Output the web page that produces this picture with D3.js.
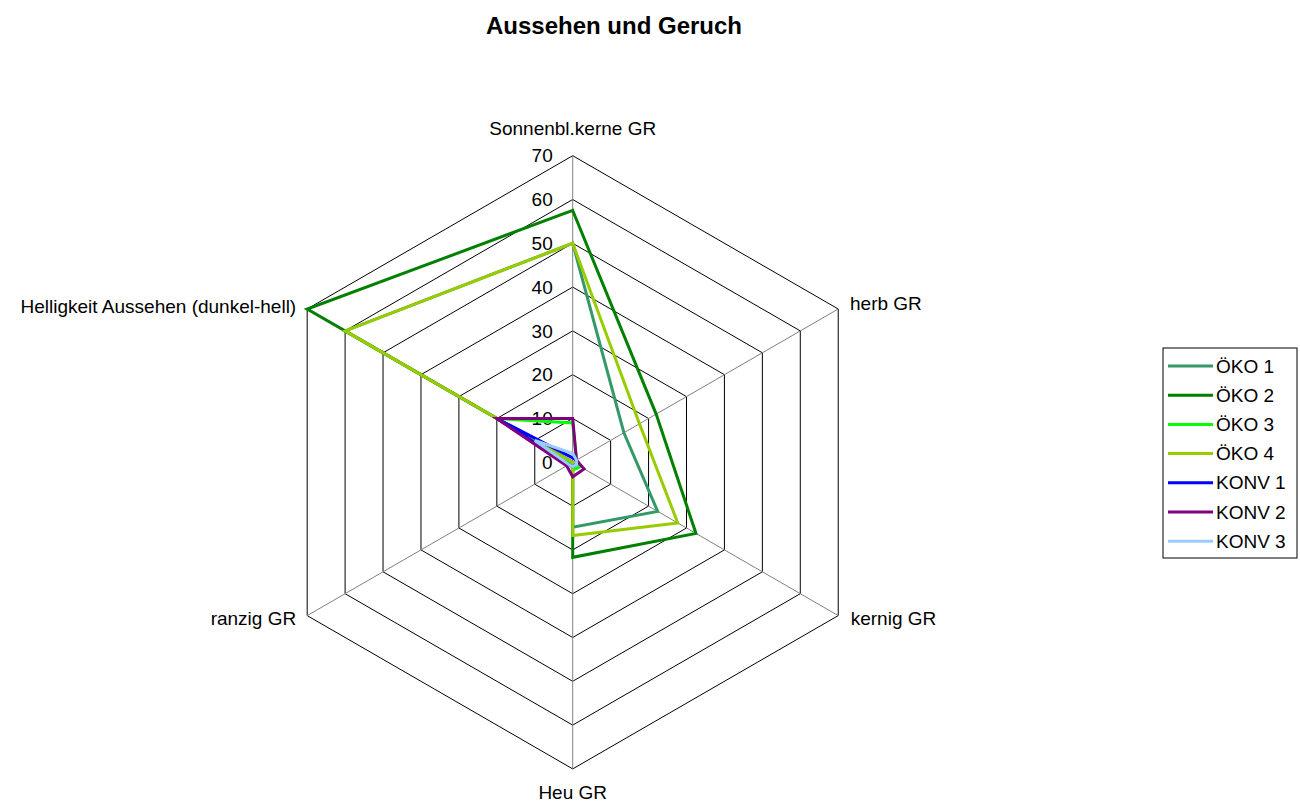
<!DOCTYPE html>
<html>
<head>
<meta charset="utf-8">
<script src="https://cdn.jsdelivr.net/npm/d3@7"></script>
<style>
  body { margin: 0; background: #fff; }
  svg text { font-family: "Liberation Sans", Arial, sans-serif; fill: #000; }
</style>
</head>
<body>
<div id="chart"></div>
<script>
// axes, clockwise from the top
var axes = ['Sonnenbl.kerne GR', 'herb GR', 'kernig GR', 'Heu GR', 'ranzig GR', 'Helligkeit Aussehen (dunkel-hell)'];
var ticks = [0, 10, 20, 30, 40, 50, 60, 70];

var seriesNames = ['ÖKO 1', 'ÖKO 2', 'ÖKO 3', 'ÖKO 4', 'KONV 1', 'KONV 2', 'KONV 3'];
var seriesColors = ['#339966', '#008000', '#00ff00', '#99cc00', '#0000ff', '#800080', '#99ccff'];

var oeko1 = [50, 13.5, 22.4, 14.8, 0, 60];
var oeko2 = [57.5, 22, 32.5, 21.7, 0, 70];
var oeko3 = [9, 1, 2, 1.8, 0.5, 20];
var oeko4 = [50, 17.6, 27.7, 16.7, 0, 60];
var konv1 = [1, 1, 1, 1, 1, 20];
var konv2 = [10, 1, 3, 3.3, 1.6, 20];
var konv3 = [2, 1, 1, 1, 1, 10];
var seriesValues = [oeko1, oeko2, oeko3, oeko4, konv1, konv2, konv3];

var width = 1300, height = 804;
var cx = 572.7, cy = 462.3;

var svg = d3.select('#chart').append('svg')
  .attr('width', width)
  .attr('height', height);

svg.append('text')
  .attr('x', 614).attr('y', 34)
  .attr('text-anchor', 'middle')
  .style('font-size', '24px')
  .style('font-weight', 'bold')
  .text('Aussehen und Geruch');

var r = d3.scaleLinear().domain([0, 70]).range([0, 306.6]);
var angle = d3.scaleLinear().domain([0, axes.length]).range([0, 2 * Math.PI]);

var g = svg.append('g').attr('transform', 'translate(' + cx + ',' + cy + ')');

function pt(i, v) {
  var a = angle(i);
  return [r(v) * Math.sin(a), -r(v) * Math.cos(a)];
}

//grid rings
var ring = d3.lineRadial()
  .angle(function(d, i) { return angle(i); })
  .radius(function(d) { return r(d); })
  .curve(d3.curveLinearClosed);

g.selectAll('.ring')
  .data(ticks.slice(1))
  .enter().append('path')
    .attr('class', 'ring')
    .attr('d', function(t) { return ring(axes.map(function() { return t; })); })
    .attr('fill', 'none')
    .attr('stroke', '#000')
    .attr('stroke-width', 1);

//spokes
g.selectAll('.spoke')
  .data(axes)
  .enter().append('line')
    .attr('class', 'spoke')
    .attr('x1', 0).attr('y1', 0)
    .attr('x2', function(d, i) { return pt(i, 70)[0]; })
    .attr('y2', function(d, i) { return pt(i, 70)[1]; })
    .attr('stroke', '#808080')
    .attr('stroke-width', 1);

//tick labels
g.selectAll('.tick-label')
  .data(ticks)
  .enter().append('text')
    .attr('class', 'tick-label')
    .attr('x', -20)
    .attr('y', function(d) { return -r(d); })
    .attr('dy', '0.35em')
    .attr('text-anchor', 'end')
    .style('font-size', '19px')
    .text(function(d) { return d; });

//axis labels (offsets from the outer vertex, y is the baseline)
var labelPos = [
  { dx: 0, dy: -20.7, anchor: 'middle' },
  { dx: 11.8, dy: 1, anchor: 'start' },
  { dx: 12.5, dy: 9.4, anchor: 'start' },
  { dx: 0, dy: 30, anchor: 'middle' },
  { dx: -11, dy: 9.4, anchor: 'end' },
  { dx: -11, dy: 4, anchor: 'end' }
];
g.selectAll('.axis-label')
  .data(axes)
  .enter().append('text')
    .attr('class', 'axis-label')
    .attr('x', function(d, i) { return pt(i, 70)[0] + labelPos[i].dx; })
    .attr('y', function(d, i) { return pt(i, 70)[1] + labelPos[i].dy; })
    .attr('text-anchor', function(d, i) { return labelPos[i].anchor; })
    .style('font-size', '19px')
    .text(function(d) { return d; });

//series
var line = d3.lineRadial()
  .angle(function(d, i) { return angle(i); })
  .radius(function(d) { return r(d); })
  .curve(d3.curveLinearClosed);

g.selectAll('.series')
  .data(seriesValues)
  .enter().append('path')
    .attr('class', 'series')
    .attr('d', function(d) { return line(d); })
    .attr('fill', 'none')
    .attr('stroke', function(d, i) { return seriesColors[i]; })
    .attr('stroke-width', 3)
    .attr('stroke-linejoin', 'miter');

//legend
var legend = svg.append('g').attr('transform', 'translate(1163,348)');
legend.append('rect')
  .attr('width', 134).attr('height', 210)
  .attr('fill', '#fff')
  .attr('stroke', '#000')
  .attr('stroke-width', 1);

var item = legend.selectAll('.legend-item')
  .data(seriesNames)
  .enter().append('g')
    .attr('class', 'legend-item')
    .attr('transform', function(d, i) { return 'translate(0,' + (18 + i * 29.2) + ')'; });

item.append('line')
  .attr('x1', 5).attr('x2', 50)
  .attr('stroke', function(d, i) { return seriesColors[i]; })
  .attr('stroke-width', 3);

item.append('text')
  .attr('x', 53)
  .attr('dy', '0.35em')
  .style('font-size', '19px')
  .text(function(d) { return d; });
</script>
</body>
</html>
